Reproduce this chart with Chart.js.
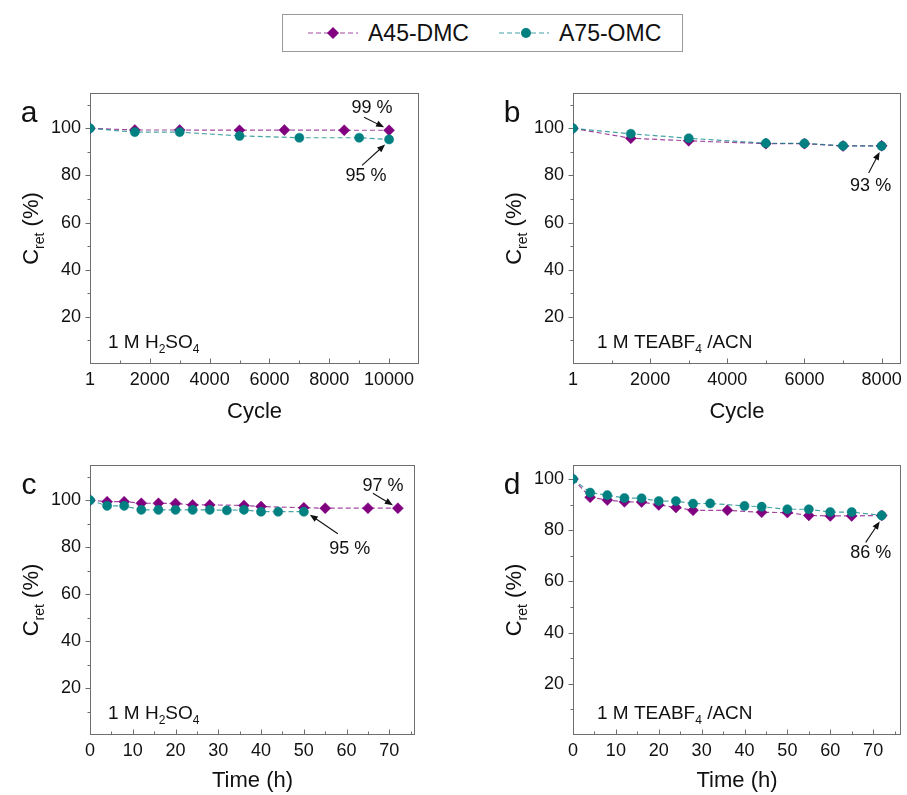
<!DOCTYPE html>
<html lang="en">
<head>
<meta charset="UTF-8">
<title>Capacitance retention of A45-DMC and A75-OMC</title>
<style>
    body { margin: 0; background: #fff; }
    #page { position: relative; width: 907px; height: 795px; font-family: "Liberation Sans", Arial, sans-serif; }
    #page canvas { position: absolute; }
    #legend {
        position: absolute; left: 282px; top: 14px; width: 399px; height: 36px;
        border: 1px solid #9a9a9a; font-size: 23px; color: #111;
    }
    .item { position: absolute; top: 0; height: 36px; display: flex; align-items: center; }
    .item svg { margin-right: 9px; }
</style>
<script src="https://cdn.jsdelivr.net/npm/chart.js@4.4.1/dist/chart.umd.min.js"></script>
</head>
<body>
<div id="page">
    <div id="legend">
        <div class="item" style="left:24px">
            <svg width="52" height="20"><line x1="1" y1="10" x2="51" y2="10" stroke="rgba(128,0,128,0.72)" stroke-width="1.2" stroke-dasharray="5,3"/><polygon points="26,4 32,10 26,16 20,10" fill="#800080"/></svg>A45-DMC
        </div>
        <div class="item" style="left:215px">
            <svg width="52" height="20"><line x1="1" y1="10" x2="51" y2="10" stroke="rgba(0,128,128,0.72)" stroke-width="1.2" stroke-dasharray="5,3"/><circle cx="28" cy="10" r="5" fill="#008080"/></svg>A75-OMC
        </div>
    </div>
    <canvas id="chartA" width="453" height="375" style="left:0;top:60px"></canvas>
    <canvas id="chartB" width="454" height="375" style="left:453px;top:60px"></canvas>
    <canvas id="chartC" width="453" height="360" style="left:0;top:435px"></canvas>
    <canvas id="chartD" width="454" height="360" style="left:453px;top:435px"></canvas>
</div>
<script>
    // ---- data ----
    // a: cycling in 1 M H2SO4
    const cycA_dmc = [1, 1500, 3000, 5000, 6500, 8500, 10000];
    const retA_dmc = [100, 99.3, 99.3, 99.2, 99.3, 99.2, 99.2];
    const cycA_omc = [1, 1500, 3000, 5000, 7000, 9000, 10000];
    const retA_omc = [100, 98.4, 98.4, 96.8, 96.0, 96.0, 95.3];

    // b: cycling in 1 M TEABF4/ACN
    const cycB = [1, 1500, 3000, 5000, 6000, 7000, 8000];
    const retB_dmc = [100, 95.8, 94.7, 93.5, 93.5, 92.5, 92.6];
    const retB_omc = [100, 97.7, 95.8, 93.7, 93.6, 92.6, 92.5];

    // c: floating in 1 M H2SO4
    const hC_dmc = [0, 4, 8, 12, 16, 20, 24, 28, 36, 40, 50, 55, 65, 72];
    const retC_dmc = [100, 99.4, 99.4, 98.7, 98.7, 98.6, 98.0, 98.0, 97.8, 97.3, 96.8, 96.6, 96.6, 96.6];
    const hC_omc = [0, 4, 8, 12, 16, 20, 24, 28, 32, 36, 40, 44, 50];
    const retC_omc = [100, 97.6, 97.6, 95.9, 95.9, 95.9, 95.9, 95.9, 95.7, 95.9, 95.1, 95.1, 95.1];

    // d: floating in 1 M TEABF4/ACN
    const hD_dmc = [0, 4, 8, 12, 16, 20, 24, 28, 36, 44, 50, 55, 60, 65, 72];
    const retD_dmc = [100, 92.9, 91.8, 91.1, 91.0, 89.9, 88.9, 87.8, 87.8, 87.0, 86.9, 85.8, 85.6, 85.6, 85.8];
    const hD_omc = [0, 4, 8, 12, 16, 20, 24, 28, 32, 40, 44, 50, 55, 60, 65, 72];
    const retD_omc = [100, 94.7, 93.7, 92.6, 92.5, 91.4, 91.4, 90.4, 90.5, 89.5, 89.2, 88.2, 88.2, 87.1, 87.1, 85.8];

    // ---- tick labels ----
    const cycTicksA = [1, 2000, 4000, 6000, 8000, 10000];
    const cycMinorA = [1000, 3000, 5000, 7000, 9000];
    const cycTicksB = [1, 2000, 4000, 6000, 8000];
    const cycMinorB = [1000, 3000, 5000, 7000];
    const timeTicks = [0, 10, 20, 30, 40, 50, 60, 70];
    const timeMinor = [5, 15, 25, 35, 45, 55, 65, 75];
    const retTicks = [20, 40, 60, 80, 100];
    const retMinor = [10, 30, 50, 70, 90, 110];

    const FONT = '"Liberation Sans", Arial, sans-serif';
    const INK = '#111';
    const FRAME = '#6e6e6e';

    function series(xs, ys) {
        return xs.map((x, i) => ({ x: x, y: ys[i] }));
    }

    function makeDatasets(dmcX, dmcY, omcX, omcY) {
        return [
            {
                label: 'A45-DMC', data: series(dmcX, dmcY), showLine: true, order: 1,
                borderColor: 'rgba(128,0,128,0.72)', borderWidth: 1.2, borderDash: [5, 3],
                pointStyle: 'rectRot', pointRadius: 5.5, pointBackgroundColor: '#800080',
                pointBorderColor: '#800080', pointBorderWidth: 0.5
            },
            {
                label: 'A75-OMC', data: series(omcX, omcY), showLine: true, order: 0,
                borderColor: 'rgba(0,128,128,0.72)', borderWidth: 1.2, borderDash: [5, 3],
                pointStyle: 'circle', pointRadius: 4.6, pointBackgroundColor: '#008080',
                pointBorderColor: '#008080', pointBorderWidth: 0.5
            }
        ];
    }

    // text with subscripts: runs = [[text, isSub], ...]
    function drawRuns(ctx, x, y, runs, size, align) {
        const subSize = Math.round(size * 0.65);
        const widths = runs.map(([t, s]) => {
            ctx.font = `${s ? subSize : size}px ${FONT}`;
            return ctx.measureText(t).width;
        });
        const total = widths.reduce((a, b) => a + b, 0);
        let cx = align === 'center' ? x - total / 2 : x;
        ctx.textAlign = 'left';
        ctx.textBaseline = 'alphabetic';
        runs.forEach(([t, s], i) => {
            ctx.font = `${s ? subSize : size}px ${FONT}`;
            ctx.fillText(t, cx, s ? y + size * 0.28 : y);
            cx += widths[i];
        });
    }

    function arrow(ctx, x1, y1, x2, y2) {
        const ang = Math.atan2(y2 - y1, x2 - x1);
        const len = 8, half = 3.2;
        ctx.beginPath();
        ctx.moveTo(x1, y1);
        ctx.lineTo(x2 - Math.cos(ang) * len * 0.8, y2 - Math.sin(ang) * len * 0.8);
        ctx.stroke();
        ctx.beginPath();
        ctx.moveTo(x2, y2);
        ctx.lineTo(x2 - Math.cos(ang) * len - Math.sin(ang) * half, y2 - Math.sin(ang) * len + Math.cos(ang) * half);
        ctx.lineTo(x2 - Math.cos(ang) * len + Math.sin(ang) * half, y2 - Math.sin(ang) * len - Math.cos(ang) * half);
        ctx.closePath();
        ctx.fill();
    }

    const panelDecor = {
        id: 'panelDecor',
        beforeDatasetsDraw(chart, args, o) {
            const { ctx, chartArea: ca, scales } = chart;
            const L = Math.round(ca.left) + 0.5, R = Math.round(ca.right) - 0.5;
            const T = Math.round(ca.top) + 0.5, B = Math.round(ca.bottom) - 0.5;
            ctx.save();
            ctx.strokeStyle = FRAME;
            ctx.lineWidth = 1;
            ctx.strokeRect(L, T, R - L, B - T);
            ctx.beginPath();
            // x ticks point inward
            o.xMajor.concat(o.xMinor).forEach(v => {
                const px = Math.round(scales.x.getPixelForValue(v)) + 0.5;
                const len = o.xMajor.includes(v) ? 5 : 3;
                ctx.moveTo(px, B); ctx.lineTo(px, B - len);
            });
            // y ticks point outward
            retTicks.concat(retMinor).forEach(v => {
                if (v > scales.y.max) return;
                const py = Math.round(scales.y.getPixelForValue(v)) + 0.5;
                const len = retTicks.includes(v) ? 5 : 3;
                ctx.moveTo(L, py); ctx.lineTo(L - len, py);
            });
            ctx.stroke();
            ctx.restore();
        },
        afterDraw(chart, args, o) {
            const { ctx, chartArea: ca } = chart;
            ctx.save();
            ctx.fillStyle = INK;
            ctx.strokeStyle = INK;
            ctx.lineWidth = 1.1;

            // panel letter
            ctx.font = `30px ${FONT}`;
            ctx.textAlign = 'center';
            ctx.textBaseline = 'alphabetic';
            ctx.fillText(o.letter, ca.left - 61, ca.top + 29);

            // electrolyte label
            drawRuns(ctx, ca.left + o.noteX, ca.bottom - 16, o.note, 19, 'left');

            // y-axis title C_ret (%)
            ctx.save();
            ctx.translate(ca.left - 60, (ca.top + ca.bottom) / 2);
            ctx.rotate(-Math.PI / 2);
            drawRuns(ctx, 0, 7.5, [['C', false], ['ret', true], [' (%)', false]], 22, 'center');
            ctx.restore();

            // retention annotations with arrows
            o.notes.forEach(n => {
                const meta = chart.getDatasetMeta(n.ds);
                const pt = meta.data[meta.data.length - 1];
                ctx.font = `18px ${FONT}`;
                ctx.textAlign = 'center';
                ctx.textBaseline = 'middle';
                ctx.fillText(n.text, pt.x + n.tx, pt.y + n.ty);
                arrow(ctx, pt.x + n.ax, pt.y + n.ay, pt.x + n.hx, pt.y + n.hy);
            });
            ctx.restore();
        }
    };

    function makePanel(id, p) {
        return new Chart(document.getElementById(id), {
            type: 'scatter',
            data: { datasets: p.datasets },
            options: {
                responsive: false,
                animation: false,
                layout: { padding: { left: p.padLeft, right: p.padRight, top: p.padTop, bottom: 0 } },
                plugins: {
                    legend: { display: false },
                    tooltip: { enabled: false },
                    panelDecor: p.decor
                },
                scales: {
                    x: {
                        type: 'linear', min: p.xMin, max: p.xMax,
                        afterBuildTicks: s => { s.ticks = p.decor.xMajor.map(v => ({ value: v })); },
                        afterFit: s => { s.height = p.xHeight; },
                        grid: { display: false, drawTicks: false },
                        border: { display: false },
                        ticks: { font: { family: FONT, size: 18 }, color: INK, padding: 5, autoSkip: false, maxRotation: 0, callback: v => String(v) },
                        title: { display: true, text: p.xTitle, color: INK, font: { family: FONT, size: 22 }, padding: { top: 0, bottom: p.titlePad } }
                    },
                    y: {
                        min: 0, max: p.yMax,
                        afterBuildTicks: s => { s.ticks = retTicks.map(v => ({ value: v })); },
                        afterFit: s => { s.width = 90; },
                        grid: { display: false, drawTicks: false },
                        border: { display: false },
                        ticks: { font: { family: FONT, size: 18 }, color: INK, padding: 9, autoSkip: false, callback: v => String(v) }
                    }
                }
            },
            plugins: [panelDecor]
        });
    }

    const noteH2SO4 = [['1 M H', false], ['2', true], ['SO', false], ['4', true]];
    const noteTEA = [['1 M TEABF', false], ['4', true], [' /ACN', false]];

    makePanel('chartA', {
        datasets: makeDatasets(cycA_dmc, retA_dmc, cycA_omc, retA_omc),
        padLeft: 0, padRight: 34, padTop: 33, xHeight: 71, titlePad: 10,
        xMin: 1, xMax: 11000, yMax: 115, xTitle: 'Cycle',
        decor: {
            letter: 'a', note: noteH2SO4, noteX: 18, xMajor: cycTicksA, xMinor: cycMinorA,
            notes: [
                { ds: 0, text: '99 %', tx: -17, ty: -22, ax: -25, ay: -13, hx: -5, hy: -3 },
                { ds: 1, text: '95 %', tx: -23, ty: 37, ax: -27, ay: 26, hx: -4, hy: 5 }
            ]
        }
    });

    makePanel('chartB', {
        datasets: makeDatasets(cycB, retB_dmc, cycB, retB_omc),
        padLeft: 30, padRight: 5, padTop: 33, xHeight: 71, titlePad: 10,
        xMin: 1, xMax: 8500, yMax: 115, xTitle: 'Cycle',
        decor: {
            letter: 'b', note: noteTEA, noteX: 24, xMajor: cycTicksB, xMinor: cycMinorB,
            notes: [
                { ds: 1, text: '93 %', tx: -11, ty: 40, ax: -13, ay: 27, hx: -2, hy: 6 }
            ]
        }
    });

    makePanel('chartC', {
        datasets: makeDatasets(hC_dmc, retC_dmc, hC_omc, retC_omc),
        padLeft: 0, padRight: 38, padTop: 30, xHeight: 60, titlePad: 1,
        xMin: 0, xMax: 76, yMax: 115, xTitle: 'Time (h)',
        decor: {
            letter: 'c', note: noteH2SO4, noteX: 18, xMajor: timeTicks, xMinor: timeMinor,
            notes: [
                { ds: 0, text: '97 %', tx: -15, ty: -22, ax: -25, ay: -15, hx: -5, hy: -3 },
                { ds: 1, text: '95 %', tx: 46, ty: 37, ax: 34, ay: 22, hx: 6, hy: 3 }
            ]
        }
    });

    makePanel('chartD', {
        datasets: makeDatasets(hD_dmc, retD_dmc, hD_omc, retD_omc),
        padLeft: 30, padRight: 5, padTop: 30, xHeight: 60, titlePad: 1,
        xMin: 0, xMax: 76.5, yMax: 105.5, xTitle: 'Time (h)',
        decor: {
            letter: 'd', note: noteTEA, noteX: 24, xMajor: timeTicks, xMinor: timeMinor,
            notes: [
                { ds: 1, text: '86 %', tx: -11, ty: 38, ax: -16, ay: 27, hx: -2, hy: 6 }
            ]
        }
    });
</script>
</body>
</html>
